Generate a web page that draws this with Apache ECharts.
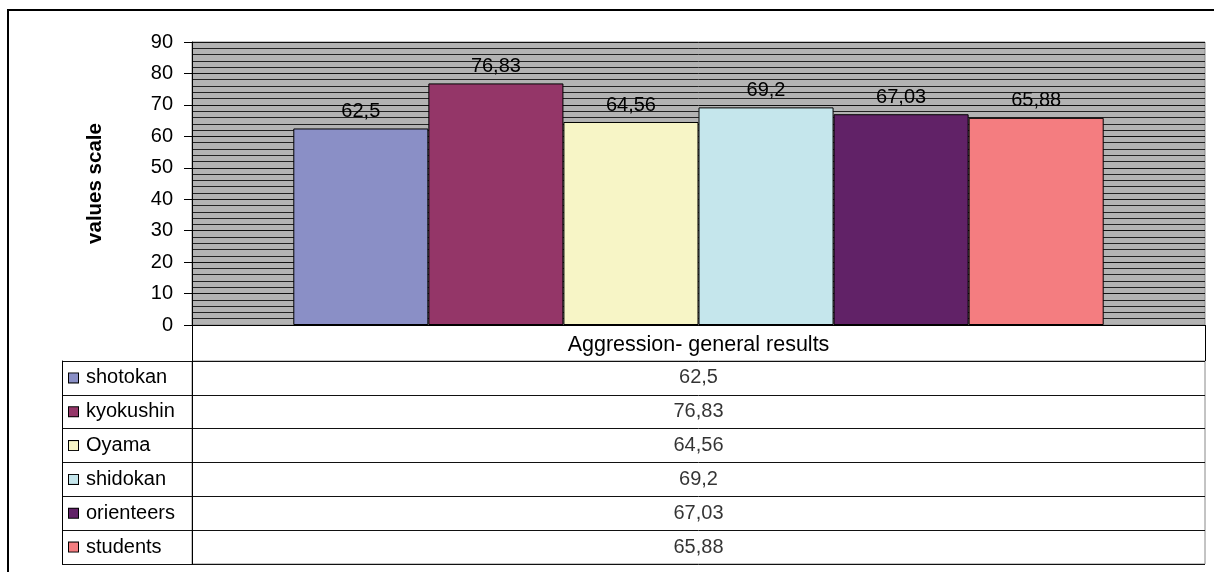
<!DOCTYPE html>
<html>
<head>
<meta charset="utf-8">
<script src="https://cdn.jsdelivr.net/npm/echarts@6/dist/echarts.min.js"></script>
<style>html,body{margin:0;padding:0;background:#fff}#c{width:1214px;height:572px}</style>
</head>
<body>
<div id="c"></div>
<script>
const categories = ['Aggression- general results'];
const seriesNames = ['shotokan', 'kyokushin', 'Oyama', 'shidokan', 'orienteers', 'students'];
const seriesValues = [62.5, 76.83, 64.56, 69.2, 67.03, 65.88];
const colors = ['#8A8FC6', '#943668', '#F7F5C6', '#C5E6EC', '#612267', '#F47D80'];
const yTicks = { min: 0, max: 90, interval: 10 };

const FONT = 'Liberation Sans, Arial, sans-serif';
const fmt = v => String(v).replace('.', ',');

const chart = echarts.init(document.getElementById('c'), null, { renderer: 'canvas' });

const rich = { t: { fontSize: 20, fontFamily: FONT, color: '#000', padding: [0, 0, 0, 8] } };
colors.forEach((c, i) => {
  rich['s' + i] = { width: 9, height: 9, backgroundColor: c, borderColor: '#000', borderWidth: 1 };
});

const barSeries = seriesNames.map((n, i) => ({
  name: n,
  type: 'bar',
  xAxisIndex: 0, yAxisIndex: 0,
  barGap: 0,
  barCategoryGap: '20%',
  data: [seriesValues[i]],
  itemStyle: { color: colors[i], borderColor: '#000', borderWidth: 1 },
  label: {
    show: true, position: 'top', distance: 7,
    fontSize: 20, fontFamily: FONT, color: '#000',
    formatter: p => fmt(p.value)
  },
  silent: true
}));

const option = {
  animation: false,
  backgroundColor: '#fff',
  graphic: [{
    type: 'rect', shape: { x: 8, y: 10, width: 1220, height: 600 },
    style: { fill: 'none', stroke: '#000', lineWidth: 2 }, silent: true
  }],
  grid: [
    { left: 192, right: 9, top: 42, bottom: 247, show: true, backgroundColor: '#b3b3b3', borderColor: '#888', borderWidth: 1 },
    { left: 62, width: 130, top: 361, bottom: 8, show: false },
    { left: 192, right: 9, top: 361, bottom: 8, show: true, backgroundColor: '#fff', borderColor: '#888', borderWidth: 1 }
  ],
  xAxis: [
    {
      type: 'category', gridIndex: 0, data: categories,
      axisLine: { show: true, lineStyle: { color: '#000', width: 1 } },
      axisTick: { show: true, length: 36, alignWithLabel: false, lineStyle: { color: '#000' } },
      axisLabel: { margin: 9, fontSize: 21.5, fontFamily: FONT, color: '#000' },
      splitLine: { show: false }
    },
    { type: 'category', gridIndex: 1, data: [''], show: false },
    { type: 'category', gridIndex: 2, data: categories, show: false }
  ],
  yAxis: [
    {
      type: 'value', gridIndex: 0, min: yTicks.min, max: yTicks.max, interval: yTicks.interval,
      name: 'values scale', nameLocation: 'middle', nameGap: 86,
      nameTextStyle: { fontSize: 20.5, fontWeight: 'bold', fontFamily: FONT, color: '#000' },
      axisLine: { show: true, lineStyle: { color: '#000', width: 1 } },
      axisTick: { show: true, length: 8, lineStyle: { color: '#000' } },
      axisLabel: { margin: 19, fontSize: 20, fontFamily: FONT, color: '#000' },
      splitLine: { show: true, lineStyle: { color: '#111', width: 1 } },
      minorTick: { show: false, splitNumber: 5 },
      minorSplitLine: { show: true, lineStyle: { color: '#222', width: 1 } }
    },
    {
      type: 'category', gridIndex: 1, data: seriesNames, inverse: true,
      axisLine: { show: true, lineStyle: { color: '#000', width: 1 } },
      axisTick: { show: false },
      axisLabel: {
        inside: true, margin: 7, align: 'left', rich: rich,
        formatter: (v, i) => '{s' + i + '|}{t|' + v + '}'
      },
      splitLine: { show: true, lineStyle: { color: '#111', width: 1 } }
    },
    {
      type: 'category', gridIndex: 2, data: seriesNames, inverse: true,
      axisLine: { show: true, lineStyle: { color: '#000', width: 1 } },
      axisTick: { show: false },
      axisLabel: { show: false },
      splitLine: { show: true, lineStyle: { color: '#111', width: 1 } }
    }
  ],
  series: barSeries.concat([{
    type: 'scatter', xAxisIndex: 2, yAxisIndex: 2,
    symbolSize: 1,
    itemStyle: { color: 'rgba(0,0,0,0)' },
    data: seriesValues.map((v, i) => [0, i, v]),
    label: {
      show: true, position: 'inside', fontSize: 20, fontFamily: FONT, color: '#000',
      formatter: p => fmt(p.value[2])
    },
    silent: true
  }])
};
chart.setOption(option);
</script>
</body>
</html>
